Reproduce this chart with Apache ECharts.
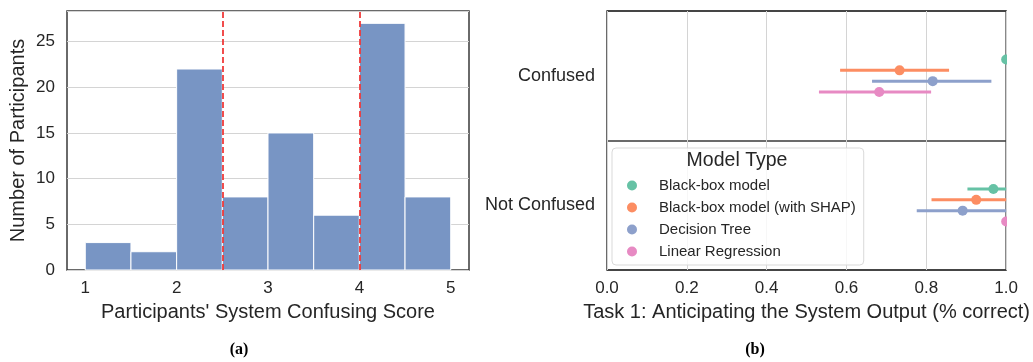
<!DOCTYPE html>
<html>
<head>
<meta charset="utf-8">
<script src="https://cdn.jsdelivr.net/npm/echarts@6/dist/echarts.min.js"></script>
<style>html,body{margin:0;padding:0;background:#fff;}#chart{width:1033px;height:362px;}</style>
</head>
<body>
<div id="chart"></div>
<script>
// ---- Panel (a): histogram ----
const scoreBinEdges = [1, 1.5, 2, 2.5, 3, 3.5, 4, 4.5, 5];
const participantCounts = [3, 2, 22, 8, 15, 6, 27, 8];
const thresholds = [2.5, 4];
const scoreTicks = [1, 2, 3, 4, 5];

// ---- Panel (b): point estimates with CIs ----
const groups = ['Confused', 'Not Confused'];
const models = ['Black-box model', 'Black-box model (with SHAP)', 'Decision Tree', 'Linear Regression'];
const meanBlackBox = [1.0, 0.968];
const meanShap = [0.733, 0.925];
const meanTree = [0.816, 0.891];
const meanLinear = [0.682, 1.0];
const lowBlackBox = [1.0, 0.903];
const lowShap = [0.584, 0.813];
const lowTree = [0.664, 0.776];
const lowLinear = [0.531, 1.0];
const highBlackBox = [1.0, 1.0];
const highShap = [0.857, 1.0];
const highTree = [0.963, 1.0];
const highLinear = [0.812, 1.0];
const accuracyTicks = [0, 0.2, 0.4, 0.6, 0.8, 1.0];

const means = [meanBlackBox, meanShap, meanTree, meanLinear];
const lows = [lowBlackBox, lowShap, lowTree, lowLinear];
const highs = [highBlackBox, highShap, highTree, highLinear];
const colors = ['#66c2a5', '#fc8d62', '#8da0cb', '#e78ac3'];

const FONT = "'Liberation Sans', Arial, sans-serif";
const TXT = '#262626';

const chart = echarts.init(document.getElementById('chart'), null, {renderer: 'canvas'});

const histSeries = {
  type: 'custom',
  xAxisIndex: 0, yAxisIndex: 0,
  data: participantCounts.map((c, i) => [scoreBinEdges[i], scoreBinEdges[i + 1], c]),
  encode: {x: [0, 1], y: 2},
  renderItem: function (params, api) {
    const p0 = api.coord([api.value(0), api.value(2)]);
    const p1 = api.coord([api.value(1), 0]);
    return {
      type: 'rect',
      shape: {x: p0[0], y: p0[1], width: p1[0] - p0[0], height: p1[1] - p0[1]},
      style: {fill: '#7895c4', stroke: '#ffffff', lineWidth: 1}
    };
  },
  markLine: {
    silent: true,
    symbol: ['none', 'none'],
    label: {show: false},
    lineStyle: {color: '#f03a3a', width: 1.8, type: [6, 3]},
    data: thresholds.map(t => ({xAxis: t}))
  },
  z: 3
};

const pointSeries = models.map((m, i) => ({
  name: m,
  type: 'custom',
  xAxisIndex: 1, yAxisIndex: 1,
  clip: true,
  itemStyle: {color: colors[i]},
  data: groups.map((g, j) => [means[i][j], j, lows[i][j], highs[i][j]]),
  encode: {x: [0, 2, 3], y: 1},
  renderItem: function (params, api) {
    const band = api.size([0, 1])[1];
    const off = (i - 1.5) * 0.0834 * band;
    const c = api.coord([api.value(0), api.value(1)]);
    const lo = api.coord([api.value(2), api.value(1)]);
    const hi = api.coord([api.value(3), api.value(1)]);
    return {
      type: 'group',
      children: [
        {type: 'line', shape: {x1: lo[0], y1: lo[1] + off, x2: hi[0], y2: hi[1] + off},
         style: {stroke: colors[i], lineWidth: 3}},
        {type: 'circle', shape: {cx: c[0], cy: c[1] + off, r: 5},
         style: {fill: colors[i]}}
      ]
    };
  },
  z: 3
}));

const option = {
  animation: false,
  textStyle: {fontFamily: FONT, color: TXT},
  grid: [
    {left: 67, top: 11, width: 402, height: 259, show: true, borderColor: '#3a3a3a', borderWidth: 1.5, backgroundColor: 'transparent'},
    {left: 607, top: 11, width: 402, height: 259, show: true, borderColor: '#3a3a3a', borderWidth: 1.5, backgroundColor: 'transparent'}
  ],
  xAxis: [
    {
      type: 'value', gridIndex: 0, min: 0.8, max: 5.2,
      axisLine: {show: false}, axisTick: {show: false}, splitLine: {show: false},
      axisLabel: {customValues: scoreTicks, fontSize: 17, color: TXT, fontFamily: FONT, margin: 10},
      name: "Participants' System Confusing Score", nameLocation: 'middle', nameGap: 32,
      nameTextStyle: {fontSize: 20, color: TXT, fontFamily: FONT}
    },
    {
      type: 'value', gridIndex: 1, min: 0, max: 1, interval: 0.2,
      axisLine: {show: false}, axisTick: {show: false},
      splitLine: {show: true, lineStyle: {color: '#d4d4d4', width: 1}},
      axisLabel: {fontSize: 17, color: TXT, fontFamily: FONT, margin: 10, formatter: v => v.toFixed(1)},
      name: 'Task 1: Anticipating the System Output (% correct)', nameLocation: 'middle', nameGap: 32,
      nameTextStyle: {fontSize: 20, color: TXT, fontFamily: FONT}
    }
  ],
  yAxis: [
    {
      type: 'value', gridIndex: 0, min: 0, max: 28.35, interval: 5,
      axisLine: {show: false}, axisTick: {show: false},
      splitLine: {show: true, lineStyle: {color: '#d4d4d4', width: 1}},
      axisLabel: {fontSize: 17, color: TXT, fontFamily: FONT, margin: 12, showMaxLabel: false},
      name: 'Number of Participants', nameLocation: 'middle', nameGap: 39,
      nameTextStyle: {fontSize: 20, color: TXT, fontFamily: FONT}
    },
    {
      type: 'category', gridIndex: 1, data: groups, inverse: true,
      axisLine: {show: false}, axisTick: {show: false},
      splitLine: {show: true, lineStyle: {color: '#3a3a3a', width: 1.5}},
      axisLabel: {fontSize: 18, color: TXT, fontFamily: FONT, margin: 12}
    }
  ],
  legend: {
    data: models,
    orient: 'vertical',
    left: 612, top: 148,
    padding: [30, 8, 6, 15],
    itemWidth: 10, itemHeight: 10, itemGap: 7,
    icon: 'circle',
    backgroundColor: 'rgba(255,255,255,0.8)',
    borderColor: '#d9d9d9', borderWidth: 1, borderRadius: 4,
    textStyle: {fontSize: 15, lineHeight: 15, color: TXT, fontFamily: FONT, padding: [0, 0, 0, 17]},
    z: 10
  },
  graphic: [
    {type: 'text', x: 737, y: 161, z: 100,
     style: {text: 'Model Type', fontSize: 19.5, fontFamily: FONT, fill: TXT, textAlign: 'center', textVerticalAlign: 'middle'}},
    {type: 'text', x: 239, y: 350, z: 100,
     style: {text: '(a)', fontSize: 16, fontWeight: 'bold', fontFamily: "'Liberation Serif', 'Times New Roman', serif", fill: '#000', textAlign: 'center', textVerticalAlign: 'middle'}},
    {type: 'text', x: 755, y: 350, z: 100,
     style: {text: '(b)', fontSize: 16, fontWeight: 'bold', fontFamily: "'Liberation Serif', 'Times New Roman', serif", fill: '#000', textAlign: 'center', textVerticalAlign: 'middle'}}
  ],
  series: [histSeries].concat(pointSeries)
};
chart.setOption(option);
</script>
</body>
</html>
